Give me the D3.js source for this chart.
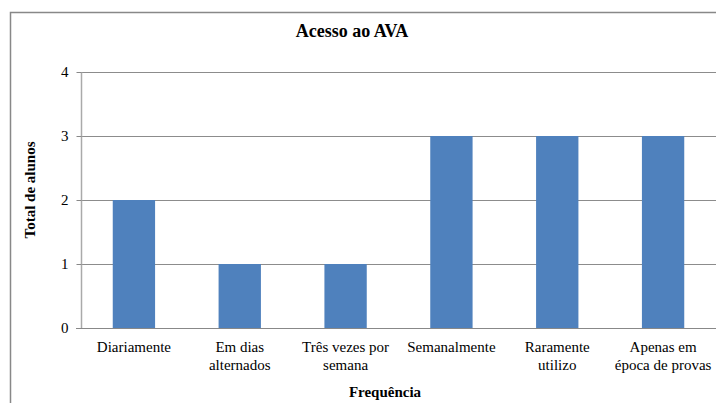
<!DOCTYPE html>
<html>
<head>
<meta charset="utf-8">
<script src="https://cdn.jsdelivr.net/npm/d3@7"></script>
<style>
  body { margin: 0; background: #fff; }
  svg text { font-family: "Liberation Serif", "DejaVu Serif", serif; }
</style>
</head>
<body>
<div id="chart"></div>
<script>
// data
var categories = [["Diariamente"], ["Em dias", "alternados"], ["Três vezes por", "semana"],
                  ["Semanalmente"], ["Raramente", "utilizo"], ["Apenas em", "época de provas"]];
var values = [2, 1, 1, 3, 3, 3];
var yTicks = [0, 1, 2, 3, 4];

var W = 716, H = 403;
var svg = d3.select("#chart").append("svg").attr("width", W).attr("height", H)
  .attr("font-family", "Liberation Serif, serif");

// outer chart border
svg.append("rect").attr("x", 10.5).attr("y", 12.5).attr("width", 720).attr("height", 410)
  .attr("fill", "none").attr("stroke", "#888").attr("stroke-width", 1.5);

var pLeft = 81, pRight = 716, pTop = 72, pBottom = 328;

var x = d3.scaleBand().domain(d3.range(categories.length)).range([pLeft, pRight]).paddingInner(0.6).paddingOuter(0.3);
var y = d3.scaleLinear().domain([0, 4]).range([pBottom, pTop]);

// gridlines
svg.append("g").selectAll("line").data(yTicks.slice(1)).join("line")
  .attr("x1", pLeft).attr("x2", W).attr("y1", d => Math.round(y(d)) + 0.5).attr("y2", d => Math.round(y(d)) + 0.5)
  .attr("stroke", "#8c8c8c").attr("stroke-width", 1);

// bars
svg.append("g").selectAll("rect").data(values).join("rect")
  .attr("x", (d, i) => x(i)).attr("width", x.bandwidth())
  .attr("y", d => y(d)).attr("height", d => pBottom - y(d))
  .attr("fill", "#4F81BD");

// y axis
var yAxis = d3.axisLeft(y).tickValues(yTicks).tickSize(5).tickPadding(8).tickFormat(d3.format("d"));
var gy = svg.append("g").attr("transform", "translate(" + (pLeft + 0.5) + ",0)").call(yAxis);
gy.attr("font-family", null);
gy.select(".domain").attr("stroke", "#aaa").attr("stroke-width", 1.5).attr("d", "M0," + pTop + "V" + (pBottom + 0.5));
gy.selectAll(".tick line").attr("stroke", "#888");
gy.selectAll(".tick text").attr("font-size", 15).attr("fill", "#000");

// x baseline
svg.append("line").attr("x1", pLeft - 5).attr("x2", W).attr("y1", pBottom + 0.5).attr("y2", pBottom + 0.5)
  .attr("stroke", "#888").attr("stroke-width", 1);

// x labels
var xl = svg.append("g").selectAll("text").data(categories).join("text")
  .attr("x", (d, i) => x(i) + x.bandwidth() / 2)
  .attr("y", 352)
  .attr("text-anchor", "middle").attr("font-size", 15);
xl.selectAll("tspan").data(d => d).join("tspan")
  .attr("x", function () { return d3.select(this.parentNode).attr("x"); })
  .attr("dy", (d, i) => i === 0 ? 0 : 18)
  .text(d => d);

// titles
svg.append("text").attr("x", 352).attr("y", 37).attr("text-anchor", "middle")
  .attr("font-size", 18).attr("font-weight", "bold").text("Acesso ao AVA");
svg.append("text").attr("x", 385).attr("y", 397).attr("text-anchor", "middle")
  .attr("font-size", 15).attr("font-weight", "bold").text("Frequência");
svg.append("text").attr("transform", "translate(35,190) rotate(-90)").attr("text-anchor", "middle")
  .attr("font-size", 15).attr("font-weight", "bold").text("Total de alunos");
</script>
</body>
</html>
